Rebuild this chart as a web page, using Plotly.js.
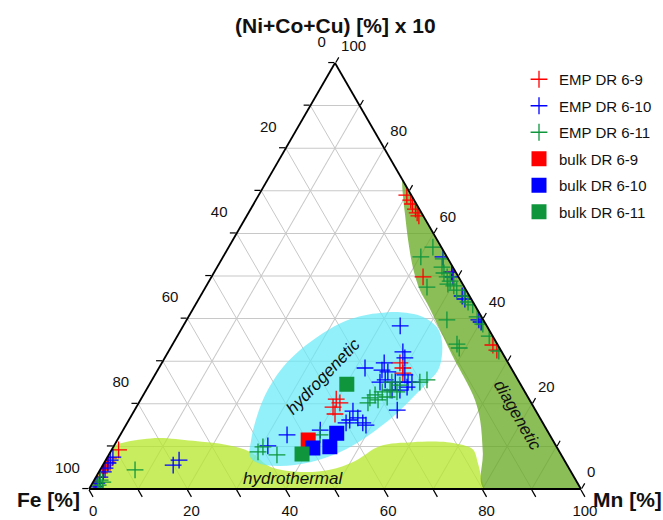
<!DOCTYPE html>
<html><head><meta charset="utf-8">
<script src="https://cdn.plot.ly/plotly-3.0.1.min.js"></script>
<style>html,body{margin:0;padding:0;background:#fff}#chart{width:663px;height:520px}</style>
</head><body><div id="chart"></div>
<script>
// Ternary components: a = (Ni+Co+Cu) x 10 [%], c = Mn [%]; Fe [%] = 100 - a - c (filled in by Plotly)
const seriesNames = ['EMP DR 6-9','EMP DR 6-10','EMP DR 6-11','bulk DR 6-9','bulk DR 6-10','bulk DR 6-11'];

const emp69_NiCoCu = [69.0,67.8,66.9,65.7,64.8,64.1, 49.8,50.9, 33.8,32.6, 29.6,28.4,27.2,21.1,20.2,19.2,17.6, 9.2,7.3,6.3,5.6,5.2,4.5,3.8,2.8,1.6];
const emp69_Mn     = [30.1,31.5,32.3,33.5,34.3,35.0, 43.0,48.3, 65.2,66.6, 48.4,49.6,50.2,39.7,40.9,40.0,41.2, 1.4,0.3,0.5,0.4,0.2,0.5,0.2,0.3,0.2];

const emp610_NiCoCu = [38.3,32.2,30.8,29.6,28.4,27.9,27.5,25.6,25.1,26.8,25.1,25.1,23.9,23.2,18.5,18.3,16.7,15.5,16.2,15.5,13.8,12.7,10.1,23.2,15.0,25.1,
                       54.5,50.9,49.8,45.3,44.6,39.7,39.2, 6.8,5.6, 7.5,6.8,6.1,4.9,4.0,2.8,1.4,0.5];
const emp610_Mn     = [44.1,47.7,48.8,45.2,41.9,45.6,47.0,47.4,49.7,50.8,52.3,53.1,52.7,51.6,53.4,44.5,46.3,47.9,44.9,44.5,40.1,33.9,31.3,50.0,48.8,46.6,
                       44.7,48.3,49.1,53.2,54.1,59.4,60.1, 14.9,14.3, 1.1,0.9,0.8,0.8,0.9,0.8,0.9,1.0];

const emp611_NiCoCu = [56.8,54.5,54.0,52.1,50.7,49.8,48.8,48.1,47.7,46.7,47.4,45.3,43.9,43.2,39.7,40.4,38.7,35.9,34.0,33.1,32.4,
                       25.6,25.1,25.1,23.2,22.8,22.1,20.9,21.4,20.2,24.4,22.8,21.6,12.7,9.9,8.7,8.0, 4.5,2.1,0.9,1.6];
const emp611_Mn     = [41.5,40.2,45.0,45.7,46.8,47.9,49.0,48.9,50.3,51.4,45.0,53.6,55.1,56.4,52.9,58.7,60.7,63.4,57.8,58.7,67.1,
                       55.9,54.7,49.0,49.6,48.2,47.1,48.3,46.4,46.6,51.0,51.2,49.8,40.6,30.4,30.0,34.2, 7.1,1.2,1.4,2.0];

const bulk69_NiCoCu = [11.5];
const bulk69_Mn     = [38.8];
const bulk610_NiCoCu = [9.6,9.9,13.1];
const bulk610_Mn     = [40.7,44.0,43.8];
const bulk611_NiCoCu = [24.6,8.2];
const bulk611_Mn     = [40.1,39.2];

// Genetic fields (outlines)
const hydrothermal_NiCoCu = [10.1,11.0,11.7,12.0,11.3,10.3,8.7,5.2,4.0,4.5,6.6,10.1,11.0,11.0,10.3,9.2,6.1,2.1,0,0,0,0,0,1,5,10.1];
const hydrothermal_Mn     = [0,1.8,5.1,8.4,15.5,22.9,28.4,34.2,40.9,46.7,50.8,54.1,60.3,67.3,70.9,73.5,76.0,78.8,80.1,50,5,0.5,0,0,0,0];
const hydrogenetic_NiCoCu = [41.3,41.5,40.4,38.0,35.0,31.0,27.9,25.6,21.6,17.8,14.6,11.5,8.7,6.3,5.4,5.9,7.5,11.5,16.2,20.9,24.9,28.6,32.6,36.6,39.4,40.8,41.3];
const hydrogenetic_Mn     = [38.5,42.5,47.7,51.7,54.2,56.2,57.0,56.5,55.1,53.7,51.9,49.7,46.7,41.8,36.1,31.8,29.0,27.2,25.8,24.9,24.7,25.1,26.6,29.3,32.3,35.7,38.5];
const diagenetic_NiCoCu = [72.5,69.0,64.3,58.5,51.9,46.7,43.2,37.3,31.0,27.9,24.9,20.9,16.2,8.5,0,0,0,0.5,5,36,70,72.5];
const diagenetic_Mn     = [27.5,29.3,32.1,35.6,39.9,43.9,47.3,52.7,58.5,61.5,64.4,68.0,71.4,75.8,80.3,95,99.5,99.5,95,64,30,27.5];

const tickVals = [0,10,20,30,40,50,60,70,80,90,100];
const tickText = ['100','','80','','60','','40','','20','','0'];

const FONT = 'Arial, "Liberation Sans", sans-serif';

function field(a, c, color) {
  return {type:'scatterternary', mode:'lines', a:a, c:c, fill:'toself', fillcolor:color,
          line:{width:0, shape:'spline', smoothing:1}, hoverinfo:'skip', showlegend:false};
}
function crosses(a, c, name, color) {
  return {type:'scatterternary', mode:'markers', a:a, c:c, name:name, legendgroup:name,
          marker:{symbol:'cross-thin-open', size:12, color:color, line:{color:color, width:1.3}}};
}
function squares(a, c, name, color) {
  return {type:'scatterternary', mode:'markers', a:a, c:c, name:name, legendgroup:name,
          marker:{symbol:'square', size:15, color:color, line:{width:0}}};
}

const RED = '#ff0000', BLUE = '#0000ff', GREEN = '#0f963c';

const data = [
  field(hydrothermal_NiCoCu, hydrothermal_Mn, 'rgba(182,232,42,0.75)'),
  field(hydrogenetic_NiCoCu, hydrogenetic_Mn, 'rgba(98,234,248,0.7)'),
  field(diagenetic_NiCoCu, diagenetic_Mn, 'rgba(102,168,32,0.75)'),
  crosses(emp69_NiCoCu, emp69_Mn, seriesNames[0], RED),
  crosses(emp610_NiCoCu, emp610_Mn, seriesNames[1], BLUE),
  crosses(emp611_NiCoCu, emp611_Mn, seriesNames[2], GREEN),
  squares(bulk69_NiCoCu, bulk69_Mn, seriesNames[3], RED),
  squares(bulk610_NiCoCu, bulk610_Mn, seriesNames[4], BLUE),
  squares(bulk611_NiCoCu, bulk611_Mn, seriesNames[5], GREEN)
];

// trailing blank lines lift the side labels above their ticks, as in the original
function axis(len, labelSuffix) {
  return {
    min:0, tickmode:'array', tickvals:tickVals, ticktext:tickText.map(t => t ? t + labelSuffix : ''),
    ticks:'outside', ticklen:len, tickwidth:1.2, tickcolor:'#000',
    showline:true, linecolor:'#000', linewidth:1.8,
    showgrid:true, gridcolor:'#c8c8c8', gridwidth:1,
    tickfont:{family:FONT, size:15, color:'#111'},
    title:{text:''}
  };
}

function note(text, px, py, size, angle) {
  return {text:text, x:px/663, y:1-py/520, xref:'paper', yref:'paper', xanchor:'center', yanchor:'middle',
          showarrow:false, textangle:angle || 0, font:{family:FONT, size:size, color:'#111'}};
}

const layout = {
  width:663, height:520,
  margin:{l:0, r:0, t:0, b:0, autoexpand:false},
  paper_bgcolor:'#fff',
  font:{family:FONT, color:'#111'},
  ternary:{
    sum:100,
    domain:{x:[89/663, 581/663], y:[31/520, 457/520]},
    bgcolor:'rgba(0,0,0,0)',
    aaxis:axis(6, '<br> <br> '), baxis:axis(8, ''), caxis:axis(6, '<br> ')
  },
  legend:{x:519/663, y:1-63/520, xanchor:'left', yanchor:'top',
          font:{family:FONT, size:15, color:'#111'}, tracegroupgap:4, bgcolor:'rgba(0,0,0,0)'},
  annotations:[
    note('<b>(Ni+Co+Cu) [%] x 10</b>', 335, 25, 21),
    note('<b>Fe [%]</b>', 48.5, 499, 21),
    note('<b>Mn [%]</b>', 627.5, 499, 21),
    note('<i>hydrogenetic</i>', 323, 376, 17, -46),
    note('<i>hydrothermal</i>', 293, 478, 17),
    note('<i>diagenetic</i>', 518, 415, 17, 60)
  ]
};

Plotly.newPlot('chart', data, layout, {displayModeBar:false, staticPlot:true});
</script>
</body></html>
